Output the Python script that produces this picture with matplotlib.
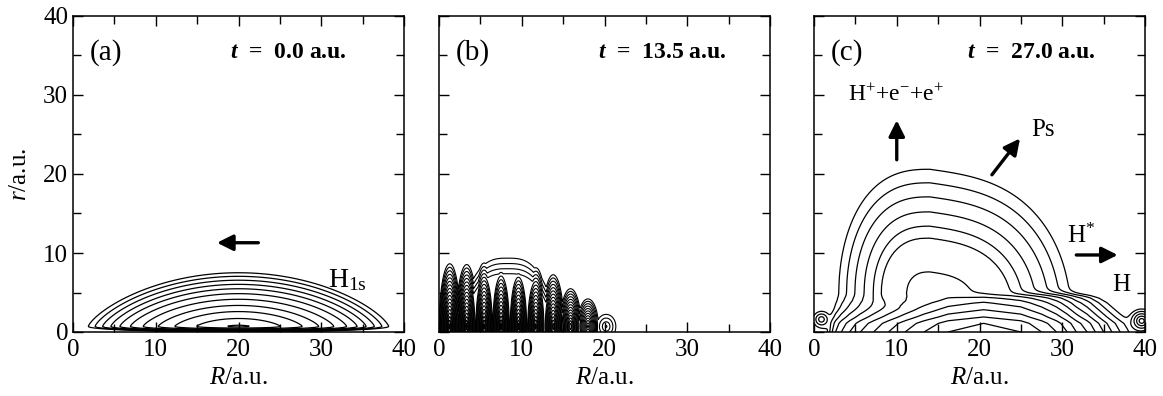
import numpy as np
import matplotlib.pyplot as plt
from matplotlib.ticker import MultipleLocator

# 字体: Times 风格
plt.rcParams['font.family'] = ['Liberation Serif', 'DejaVu Serif']
plt.rcParams['mathtext.fontset'] = 'custom'
plt.rcParams['mathtext.rm'] = 'Liberation Serif'
plt.rcParams['mathtext.it'] = 'Liberation Serif:italic'
plt.rcParams['mathtext.bf'] = 'Liberation Serif:bold'
plt.rcParams['mathtext.bfit'] = 'Liberation Serif:bold:italic'

# ============ 数据 ============
panel_tags = ['(a)', '(b)', '(c)']
panel_times = ['0.0', '13.5', '27.0']
time_x = [19.0, 19.2, 18.5]
axis_ticks = [0, 10, 20, 30, 40]

# (a) t = 0 : H(1s) 初始分布, 等高线 = 归一化距离
h1s_center = 20.0
h1s_halfwidth = 18.15
h1s_base = 0.7
h1s_height = 6.8
h1s_levels = [0.08, 0.28, 0.425, 0.535, 0.635, 0.72, 0.79, 0.85, 0.905, 0.955, 1.0]

# (b) t = 13.5 : 干涉瓣的位置 / 高度 / 强度
lobe_R = [1.3, 3.35, 5.45, 7.5, 9.6, 11.7, 13.8, 15.9, 18.0, 20.2]
lobe_h = [8.1, 8.0, 8.2, 8.4, 8.2, 7.6, 6.7, 4.9, 3.6, 1.7]
lobe_amp = [1.0, 1.0, 1.0, 1.0, 1.0, 0.95, 0.9, 0.8, 0.65, 0.2]
lobe_width = 1.3
cap_R, cap_halfwidth, cap_height = 8.3, 6.4, 9.6
b_levels = [0.02, 0.075, 0.13, 0.185, 0.24, 0.295, 0.35, 0.405, 0.46, 0.515,
            0.57, 0.625, 0.68, 0.735, 0.79, 0.845, 0.9, 0.95]

# (c) t = 27 : Ps 羽流 + H 带
plume_R, plume_r = 14.0, 5.0
plume_left, plume_right, plume_up, plume_down = 11.0, 17.0, 15.6, 4.5
plume_d = [0.0, 0.167, 0.442, 0.538, 0.654, 0.776, 0.89, 1.0, 1.6]
plume_lv = [7.6, 7.0, 6.0, 5.0, 4.0, 3.0, 2.0, 1.0, -6.0]
band_R = [0.0, 1.7, 1.9, 2.2, 2.6, 3.3, 4.3, 5.6, 7.2, 9.0, 11.0, 13.3, 16.2, 20.5,
          25.0, 27.5, 29.3, 30.6, 31.7, 33.0, 34.0, 35.0, 36.0, 37.0, 38.0, 39.0, 40.0]
band_g = [-1, 1, 2, 3, 4, 5, 6, 7, 8, 9, 10, 11, 12, 12.6,
          12, 11, 10, 9, 8, 7, 6, 5, 4, 3, 2, 1, 0]
band_r = [0, 1.1, 1.9, 2.8, 3.7, 4.3, 4.6, 5.0, 5.8, 7.0, 40.0]
band_s = [0, -0.6, -1.6, -2.6, -3.6, -4.6, -5.6, -7.6, -11.6, -15.0, -60.0]
blob_R = [0.9, 39.6]
blob_r = [1.6, 1.4]
blob_peak = [4.0, 6.0]
blob_size = [0.5, 0.45]
c_levels = [1, 2, 3, 4, 5, 6, 7, 8, 9, 10, 11, 12]

# ============ 网格与场 ============
R = np.linspace(0, 40, 481)
r = np.linspace(0, 40, 481)
RR, rr = np.meshgrid(R, r)

# (a)
above = rr >= h1s_base
r_term = np.where(above, (np.abs(rr - h1s_base) / h1s_height) ** (4 / 3),
                  ((h1s_base - rr) / h1s_base) ** 2)
field_a = np.sqrt(((RR - h1s_center) / h1s_halfwidth) ** 2 + r_term)

# (b)
field_b = np.full(RR.shape, -1.0)
for Ri, hi, ai in zip(lobe_R, lobe_h, lobe_amp):
    d = np.sqrt(((RR - Ri) / lobe_width) ** 2 + ((rr - 0.7) / hi) ** 2)
    field_b = np.maximum(field_b, ai * (1 - d))
d_cap = np.sqrt(np.abs((RR - cap_R) / cap_halfwidth) ** 3 + rr / cap_height)
field_b = np.maximum(field_b, np.minimum(1.5 * (1 - d_cap), 0.2))

# (c)
dx = RR - plume_R
xn = np.where(dx > 0, (np.abs(dx) / plume_right) ** 1.5, (np.abs(dx) / plume_left) ** 1.3)
dy = rr - plume_r + 0.15 * np.maximum(dx, 0)
yn = np.where(dy > 0, dy / plume_up, dy / plume_down)
d_plume = np.sqrt(xn ** 2 + yn ** 2)
log_plume = np.interp(d_plume, plume_d, plume_lv)
log_band = np.interp(RR, band_R, band_g) + np.interp(rr, band_r, band_s)
field_c = np.logaddexp(log_plume, log_band)
for bR, br, bp, bs in zip(blob_R, blob_r, blob_peak, blob_size):
    dist = np.sqrt((RR - bR) ** 2 + (rr - br) ** 2)
    field_c = np.logaddexp(field_c, bp - dist / bs * 1.5)

# ============ 画图 ============
fig = plt.figure(figsize=(11.63, 3.96), dpi=100)
lefts = [73 / 1163, 439 / 1163, 814 / 1163]
axes = [fig.add_axes([x0, 64 / 396, 331 / 1163, 316 / 396]) for x0 in lefts]

axes[0].contour(RR, rr, field_a, levels=h1s_levels, colors='k', linewidths=0.9)
axes[1].contour(RR, rr, field_b, levels=b_levels, colors='k', linewidths=0.8)
axes[2].contour(RR, rr, field_c, levels=c_levels, colors='k', linewidths=0.9)

for i, ax in enumerate(axes):
    ax.set_xlim(0, 40)
    ax.set_ylim(0, 40)
    ax.set_xticks(axis_ticks)
    ax.set_yticks(axis_ticks)
    ax.xaxis.set_minor_locator(MultipleLocator(5))
    ax.yaxis.set_minor_locator(MultipleLocator(5))
    ax.tick_params(which='both', direction='in', top=True, right=True, width=1.0)
    ax.tick_params(which='major', length=7, labelsize=18)
    ax.tick_params(which='minor', length=6)
    ax.tick_params(axis='x', pad=5)
    ax.tick_params(axis='y', pad=3.5)
    for sp in ax.spines.values():
        sp.set_linewidth(1.1)
    ax.set_xlabel('$R$/a.u.', fontsize=18, labelpad=4)
    if i > 0:
        ax.set_yticklabels([])
    ax.text(2.0, 35.4, panel_tags[i], fontsize=21, va='center', ha='left')
    ax.text(time_x[i], 35.4, r'$\mathbfit{t}$  =  ' + panel_times[i] + ' a.u.',
            fontsize=17, fontweight='bold', va='center', ha='left')

axes[0].set_ylabel('$r$/a.u.', fontsize=18, labelpad=9)

arrow = dict(arrowstyle='-|>', lw=2.4, color='k', mutation_scale=24, shrinkA=0, shrinkB=0)
axes[0].annotate('', xy=(17.4, 11.3), xytext=(22.4, 11.3), arrowprops=arrow)
axes[0].text(30.8, 5.7, r'H$_{\rm 1s}$', fontsize=20, va='baseline', ha='left')

axes[2].text(4.1, 30.0, r'H$^{+}$+e$^{-}$+e$^{+}$', fontsize=17, va='center', ha='left')
axes[2].annotate('', xy=(10.0, 26.8), xytext=(10.0, 21.8), arrowprops=arrow)
axes[2].annotate('', xy=(24.9, 24.5), xytext=(21.5, 19.9), arrowprops=arrow)
axes[2].text(26.3, 25.6, 'Ps', fontsize=18, va='center', ha='left')
axes[2].text(30.6, 12.2, r'H$^{*}$', fontsize=18, va='center', ha='left')
axes[2].annotate('', xy=(36.7, 9.75), xytext=(31.7, 9.75), arrowprops=arrow)
axes[2].text(36.0, 5.9, 'H', fontsize=18, va='center', ha='left')

fig.savefig('out.png', dpi=100)
